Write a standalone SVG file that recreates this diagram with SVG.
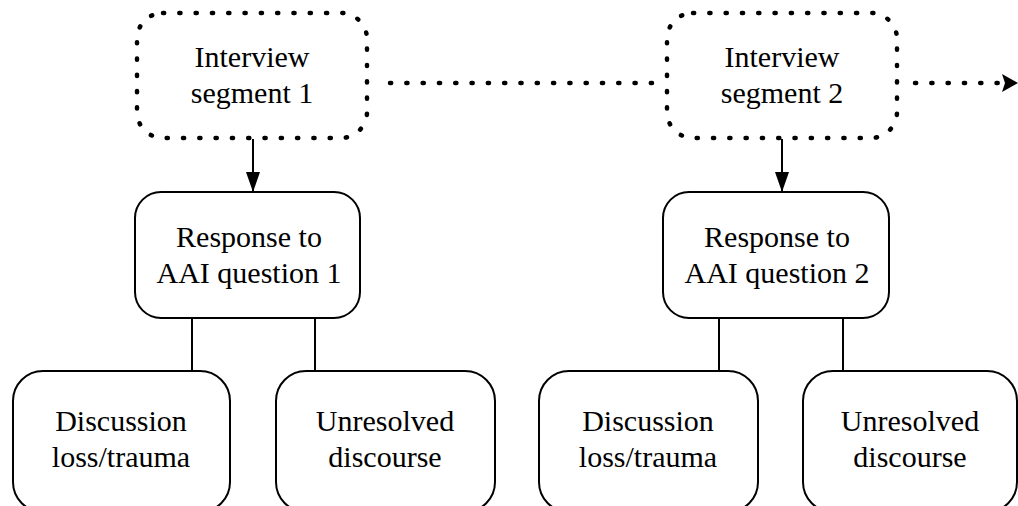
<svg xmlns="http://www.w3.org/2000/svg" width="1018" height="506" viewBox="0 0 1018 506">
  <style>
    .box { fill: #fff; stroke: #000; stroke-width: 2; }
    .dotbox { fill: #fff; stroke: #000; stroke-width: 4.5; stroke-dasharray: 1.2 15.1; stroke-linecap: round; }
    .line { fill: none; stroke: #000; stroke-width: 2; }
    .dotline { fill: none; stroke: #000; stroke-width: 4.5; stroke-dasharray: 1.2 15.1; stroke-linecap: round; }
    text { font-family: "Liberation Serif", "Times New Roman", serif; font-size: 30px; fill: #000; text-anchor: middle; }
  </style>
  <defs>
    <marker id="arrowDown" viewBox="0 0 20 14" refX="20" refY="7" markerWidth="20" markerHeight="14" markerUnits="userSpaceOnUse" orient="auto">
      <path d="M0,0 L20,7 L0,14 z" fill="#000"/>
    </marker>
  </defs>

  <g id="connectors">
    <line class="dotline" x1="390" y1="83" x2="656" y2="83"/>
    <line class="dotline" x1="915" y1="83" x2="1000" y2="83"/>
    <path d="M1002,74 L1018,83 L1002,92 L1005,83 z" fill="#000"/>
    <line class="line" x1="253" y1="139" x2="253" y2="192" marker-end="url(#arrowDown)"/>
    <line class="line" x1="782" y1="139" x2="782" y2="192" marker-end="url(#arrowDown)"/>
    <line class="line" x1="192" y1="318" x2="192" y2="371"/>
    <line class="line" x1="315" y1="318" x2="315" y2="371"/>
    <line class="line" x1="719" y1="318" x2="719" y2="371"/>
    <line class="line" x1="843" y1="318" x2="843" y2="371"/>
  </g>

  <g id="interview1">
    <rect class="dotbox" x="137" y="13" width="230" height="125" rx="26"/>
    <text x="252" y="67">Interview</text>
    <text x="252" y="103">segment 1</text>
  </g>
  <g id="interview2">
    <rect class="dotbox" x="667" y="13" width="230" height="125" rx="26"/>
    <text x="782" y="67">Interview</text>
    <text x="782" y="103">segment 2</text>
  </g>

  <g id="response1">
    <rect class="box" x="135" y="192" width="225" height="126" rx="26"/>
    <text x="249" y="247">Response to</text>
    <text x="249" y="283">AAI question 1</text>
  </g>
  <g id="response2">
    <rect class="box" x="663" y="192" width="226" height="126" rx="26"/>
    <text x="777" y="247">Response to</text>
    <text x="777" y="283">AAI question 2</text>
  </g>

  <g id="discussion1">
    <rect class="box" x="13" y="371" width="217" height="141" rx="30"/>
    <text x="121" y="431">Discussion</text>
    <text x="121" y="467">loss/trauma</text>
  </g>
  <g id="unresolved1">
    <rect class="box" x="276" y="371" width="219" height="141" rx="30"/>
    <text x="385" y="431">Unresolved</text>
    <text x="385" y="467">discourse</text>
  </g>
  <g id="discussion2">
    <rect class="box" x="539" y="371" width="219" height="141" rx="30"/>
    <text x="648" y="431">Discussion</text>
    <text x="648" y="467">loss/trauma</text>
  </g>
  <g id="unresolved2">
    <rect class="box" x="803" y="371" width="214" height="141" rx="30"/>
    <text x="910" y="431">Unresolved</text>
    <text x="910" y="467">discourse</text>
  </g>
</svg>
